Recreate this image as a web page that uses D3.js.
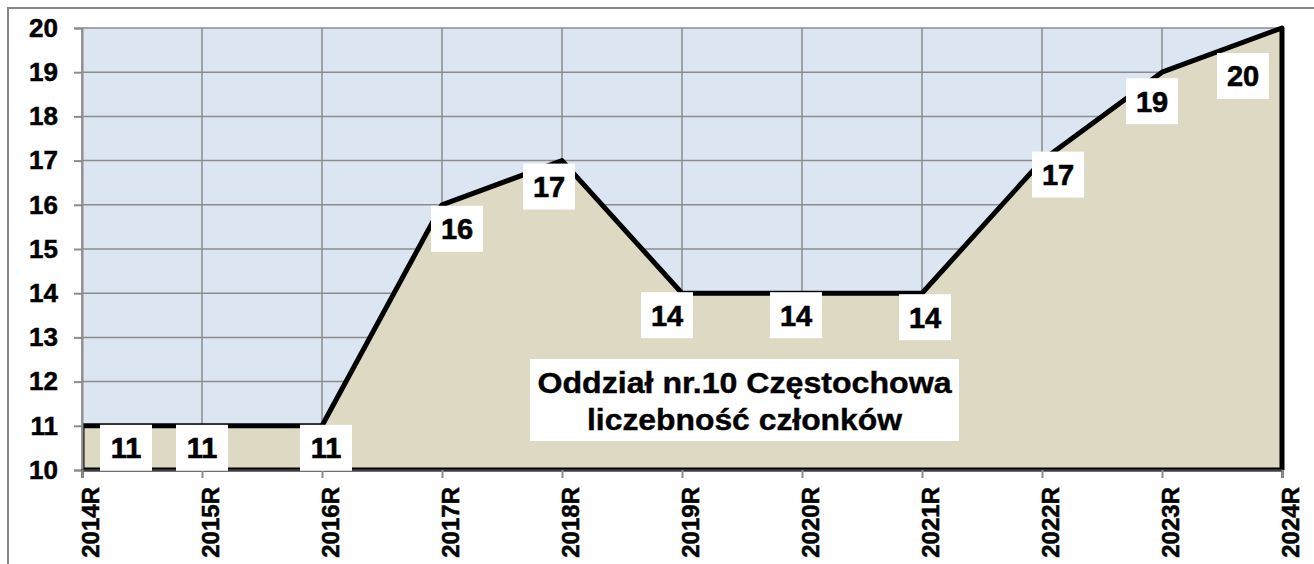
<!DOCTYPE html>
<html>
<head>
<meta charset="utf-8">
<script src="https://cdn.jsdelivr.net/npm/d3@7"></script>
<style>
  body { margin: 0; background: #fff; }
  svg { display: block; font-family: "Liberation Sans", Arial, sans-serif; }
</style>
</head>
<body>
<svg id="chart" width="1314" height="564"></svg>
<script>
// data
const years = ["2014R", "2015R", "2016R", "2017R", "2018R", "2019R", "2020R", "2021R", "2022R", "2023R", "2024R"];
const members = [11, 11, 11, 16, 17, 14, 14, 14, 17, 19, 20];
const yTicks = [10, 11, 12, 13, 14, 15, 16, 17, 18, 19, 20];
const titleLines = ["Oddział nr.10 Częstochowa", "liczebność członków"];

// where each value label box sits relative to its point (px)
const labelOffsets = [[44, 22], [0, 22], [4, 22], [15, 24], [-13, 26], [-15, 22], [-6, 22], [3, 24], [16, 14], [-10, 29], [-39, 48]];

const width = 1314, height = 564;
const margin = { top: 28, right: 32, bottom: 94, left: 82 };

const svg = d3.select("#chart");

// outer chart frame (only top/left visible)
svg.append("rect")
  .attr("x", 8).attr("y", 8)
  .attr("width", 1400).attr("height", 700)
  .attr("fill", "none")
  .attr("stroke", "#878787")
  .attr("stroke-width", 2);

const x = d3.scalePoint()
  .domain(years)
  .range([margin.left, width - margin.right]);

const y = d3.scaleLinear()
  .domain([10, 20])
  .range([height - margin.bottom, margin.top]);

const x0 = margin.left, x1 = width - margin.right;
const y0 = y(10), y1 = y(20);

// plot background
svg.append("rect")
  .attr("x", x0).attr("y", y1)
  .attr("width", x1 - x0).attr("height", y0 - y1)
  .attr("fill", "#dce6f2");

// grid
svg.append("g")
  .selectAll("line.h")
  .data(yTicks)
  .join("line")
  .attr("x1", x0).attr("x2", x1)
  .attr("y1", d => y(d)).attr("y2", d => y(d))
  .attr("stroke", "#8c8c8c")
  .attr("stroke-width", 1.5);

svg.append("g")
  .selectAll("line.v")
  .data(years)
  .join("line")
  .attr("x1", d => x(d)).attr("x2", d => x(d))
  .attr("y1", y1).attr("y2", y0)
  .attr("stroke", "#8c8c8c")
  .attr("stroke-width", 1.5);

// area
svg.append("clipPath").attr("id", "plotclip")
  .append("rect")
  .attr("x", x0).attr("y", y1 - 4)
  .attr("width", x1 - x0 + 6).attr("height", y0 - y1 + 4);

const area = d3.area()
  .x((d, i) => x(years[i]))
  .y0(y(10))
  .y1(d => y(d));

svg.append("path")
  .datum(members)
  .attr("d", area)
  .attr("fill", "#ddd9c3")
  .attr("stroke", "#000")
  .attr("stroke-width", 5)
  .attr("stroke-linejoin", "round")
  .attr("clip-path", "url(#plotclip)");

// axes
const yAxis = svg.append("g")
  .attr("transform", `translate(${x0},0)`)
  .call(d3.axisLeft(y).tickValues(yTicks).tickFormat(d3.format("d")).tickSize(8).tickPadding(16));

yAxis.select(".domain").attr("stroke", "#8c8c8c").attr("stroke-width", 2);
yAxis.selectAll(".tick line").attr("stroke", "#8c8c8c").attr("stroke-width", 2);
yAxis.selectAll(".tick text")
  .attr("fill", "#000")
  .attr("stroke", "#000")
  .attr("stroke-width", 0.5)
  .attr("font-size", 26)
  .attr("font-weight", "bold")
  .attr("font-family", "Liberation Sans, Arial, sans-serif");

const xAxis = svg.append("g")
  .attr("transform", `translate(0,${y0})`)
  .call(d3.axisBottom(x).tickSize(8).tickPadding(0));

xAxis.select(".domain").attr("stroke", "#404040").attr("stroke-width", 2.5);
xAxis.selectAll(".tick line").attr("stroke", "#8c8c8c").attr("stroke-width", 2);
xAxis.selectAll(".tick text")
  .attr("fill", "#000")
  .attr("stroke", "#000")
  .attr("stroke-width", 0.5)
  .attr("font-size", 24)
  .attr("font-weight", "bold")
  .attr("font-family", "Liberation Sans, Arial, sans-serif")
  .attr("text-anchor", "end")
  .attr("dy", "0.35em")
  .attr("transform", "translate(0,17) rotate(-90)");

// value labels
const labels = svg.append("g")
  .selectAll("g")
  .data(members)
  .join("g")
  .attr("transform", (d, i) => `translate(${x(years[i]) + labelOffsets[i][0]},${y(d) + labelOffsets[i][1]})`);

labels.append("rect")
  .attr("x", -26).attr("y", -23)
  .attr("width", 52).attr("height", 46)
  .attr("fill", "#fff");

labels.append("text")
  .attr("text-anchor", "middle")
  .attr("dy", "0.36em")
  .attr("font-size", 29)
  .attr("font-weight", "bold")
  .attr("stroke", "#000")
  .attr("stroke-width", 0.6)
  .text(d => d);

// title box inside the plot
svg.append("rect")
  .attr("x", 530).attr("y", 359)
  .attr("width", 429).attr("height", 82)
  .attr("fill", "#fff");

svg.append("g")
  .selectAll("text")
  .data(titleLines)
  .join("text")
  .attr("x", 744.5)
  .attr("y", (d, i) => 393 + i * 37)
  .attr("text-anchor", "middle")
  .attr("font-size", 29)
  .attr("font-weight", "bold")
  .attr("stroke", "#000")
  .attr("stroke-width", 0.4)
  .attr("textLength", (d, i) => i === 0 ? 414 : 315)
  .attr("lengthAdjust", "spacingAndGlyphs")
  .text(d => d);
</script>
</body>
</html>
